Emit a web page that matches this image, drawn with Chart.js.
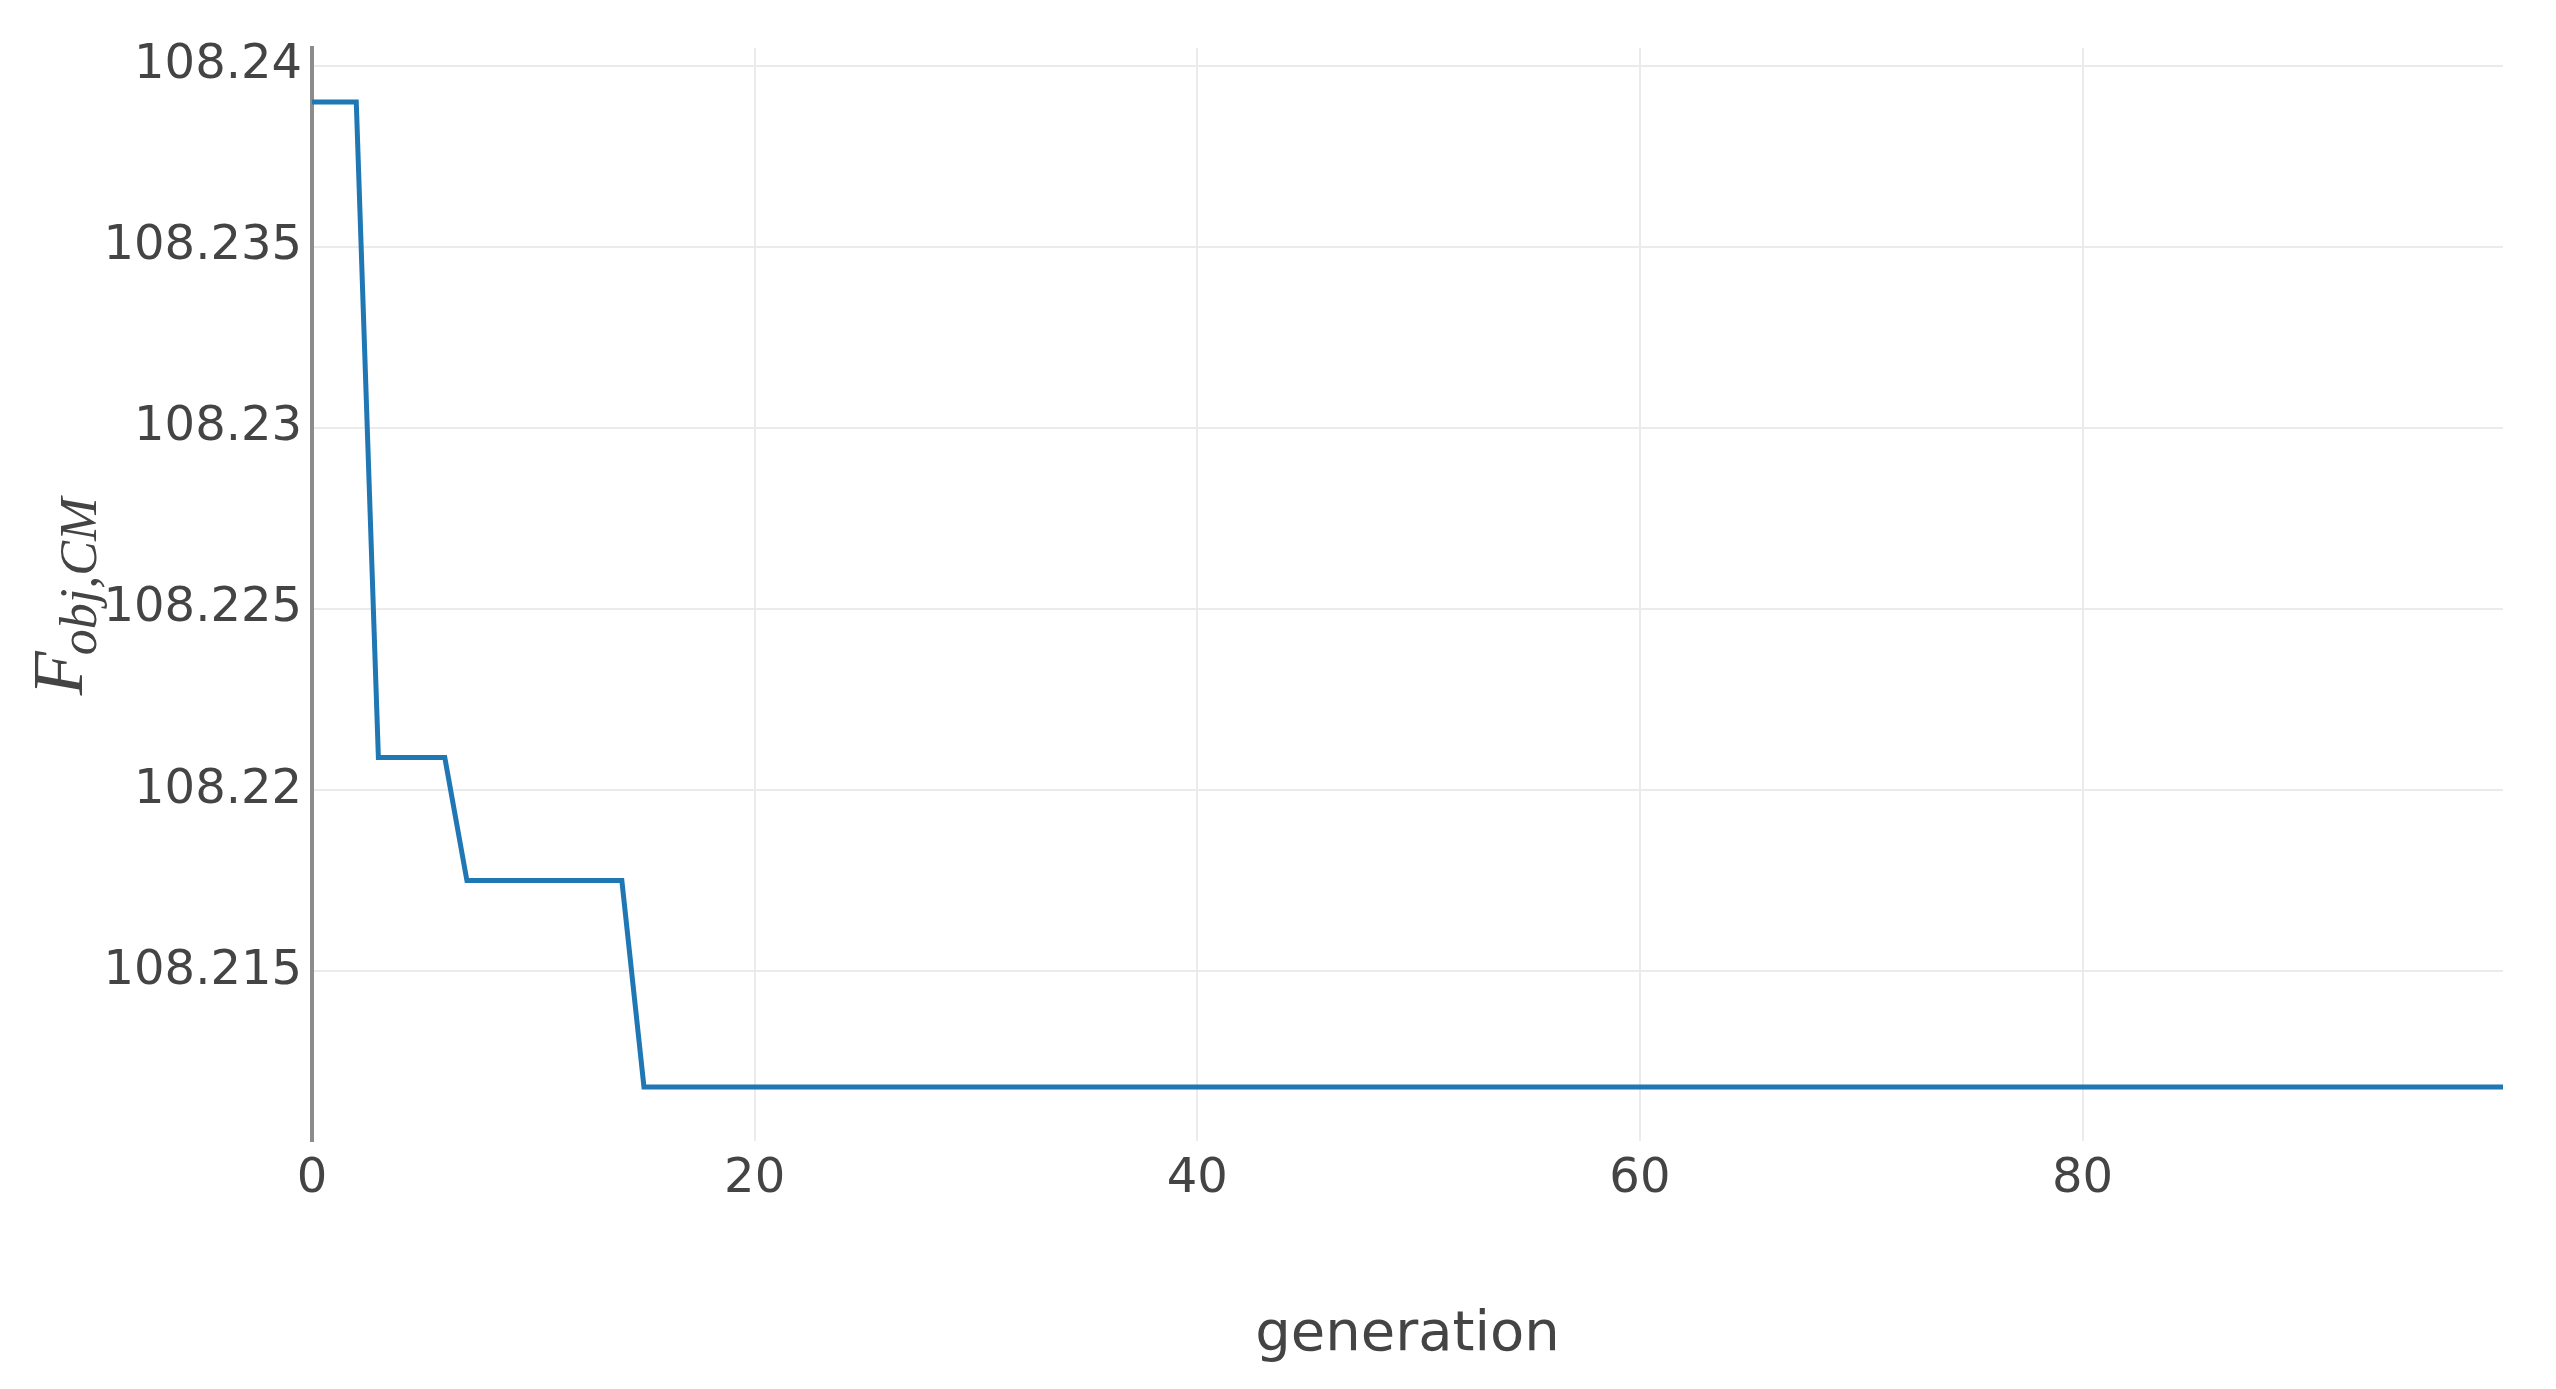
<!DOCTYPE html>
<html>
<head>
<meta charset="utf-8">
<script src="https://cdn.jsdelivr.net/npm/chart.js@4.4.1/dist/chart.umd.min.js"></script>
<style>
  html, body { margin: 0; padding: 0; background: #fff; }
  #wrap { width: 2556px; height: 1389px; position: relative; }
</style>
</head>
<body>
<div id="wrap"><canvas id="chart"></canvas></div>
<script>
// corners of the best-so-far curve (generation, objective value)
const generations = [0, 2, 3, 6, 7, 14, 15, 99];
const fobjValues = [108.2390, 108.2390, 108.2209, 108.2209, 108.2175, 108.2175, 108.2118, 108.2118];
const xTicks = [0, 20, 40, 60, 80];
const yTicks = [108.215, 108.22, 108.225, 108.23, 108.235, 108.24];

const textColor = '#444';
const tickFont = { family: '"DejaVu Sans", Verdana, sans-serif', size: 48 };

// y title with subscript, Chart.js titles cant do that
const yTitlePlugin = {
  id: 'yTitle',
  afterDraw(chart) {
    const ctx = chart.ctx;
    const area = chart.chartArea;
    ctx.save();
    ctx.translate(82, (area.top + area.bottom) / 2);
    ctx.rotate(-Math.PI / 2);
    ctx.fillStyle = textColor;
    ctx.textBaseline = 'alphabetic';
    ctx.textAlign = 'left';
    ctx.font = 'italic 72px "Liberation Serif", "DejaVu Serif", serif';
    const w1 = ctx.measureText('F').width;
    ctx.font = 'italic 52px "Liberation Serif", "DejaVu Serif", serif';
    const w2 = ctx.measureText('obj,CM').width;
    const x0 = -(w1 + w2) / 2;
    ctx.font = 'italic 72px "Liberation Serif", "DejaVu Serif", serif';
    ctx.fillText('F', x0, 0);
    ctx.font = 'italic 52px "Liberation Serif", "DejaVu Serif", serif';
    ctx.fillText('obj,CM', x0 + w1 - 4, 14);
    ctx.restore();
  }
};

const points = generations.map((g, i) => ({ x: g, y: fobjValues[i] }));

new Chart(document.getElementById('chart'), {
  type: 'line',
  data: {
    datasets: [{
      data: points,
      borderColor: '#1f77b4',
      borderWidth: 5,
      pointRadius: 0,
      tension: 0,
      fill: false
    }]
  },
  options: {
    responsive: true,
    maintainAspectRatio: false,
    animation: false,
    layout: { padding: { top: 48, right: 53, bottom: 0, left: 0 } },
    plugins: { legend: { display: false }, tooltip: { enabled: false } },
    scales: {
      x: {
        type: 'linear',
        min: 0,
        max: 99,
        afterFit(scale) { scale.height = 248; },
        afterBuildTicks(scale) { scale.ticks = xTicks.map(v => ({ value: v })); },
        grid: { color: '#ebebeb', lineWidth: 2, drawTicks: false },
        border: { display: false },
        ticks: { color: textColor, font: tickFont, padding: 10, maxRotation: 0 },
        title: {
          display: true,
          text: 'generation',
          color: textColor,
          font: { family: '"DejaVu Sans", Verdana, sans-serif', size: 56 },
          padding: { top: 0, bottom: 20 }
        }
      },
      y: {
        type: 'linear',
        min: 108.21031,
        max: 108.24049,
        afterFit(scale) { scale.width = 312; },
        afterBuildTicks(scale) { scale.ticks = yTicks.map(v => ({ value: v })); },
        grid: { color: '#ebebeb', lineWidth: 2, drawTicks: false },
        border: { display: true, color: '#8c8c8c', width: 4 },
        ticks: {
          color: textColor,
          font: tickFont,
          padding: 10,
          callback: v => String(+v.toFixed(3))
        }
      }
    }
  },
  plugins: [yTitlePlugin]
});
</script>
</body>
</html>
